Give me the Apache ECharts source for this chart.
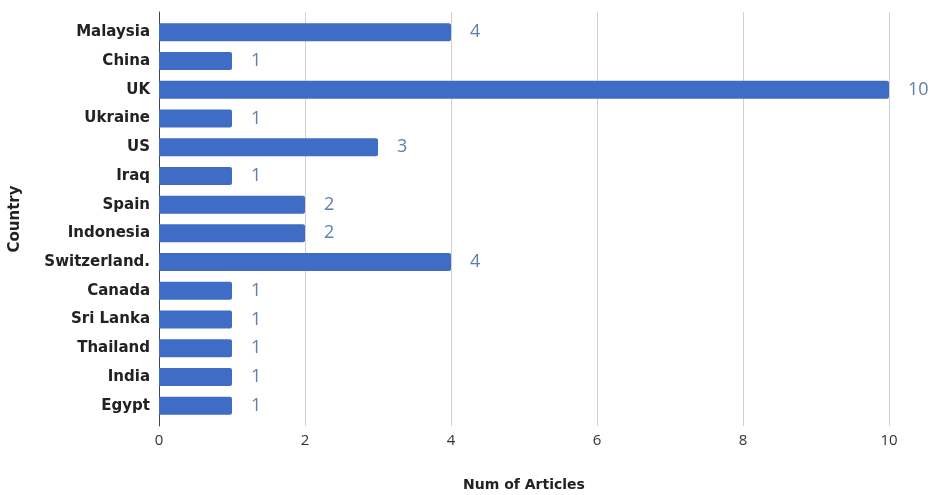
<!DOCTYPE html>
<html><head><meta charset="utf-8">
<script src="https://cdn.jsdelivr.net/npm/echarts@6/dist/echarts.min.js"></script>
<style>html,body{margin:0;padding:0;background:#fff}#c{width:934px;height:495px}</style>
</head><body><div id="c"></div>
<script>
const countries = ["Malaysia","China","UK","Ukraine","US","Iraq","Spain","Indonesia","Switzerland.","Canada","Sri Lanka","Thailand","India","Egypt"];
const articles = [4,1,10,1,3,1,2,2,4,1,1,1,1,1];
const xTicks = [0,2,4,6,8,10];
const chart = echarts.init(document.getElementById('c'));
const labelFont = {fontFamily:'DejaVu Sans',fontWeight:'bold',fontSize:15,color:'#222'};
chart.setOption({
  animation:false,
  grid:[
    {left:159,top:18,width:730,height:402,containLabel:false,outerBoundsMode:'none'},
    {left:159,top:12,width:730,height:414,containLabel:false,outerBoundsMode:'none'}
  ],
  xAxis:[
    {gridIndex:0,type:'value',min:xTicks[0],max:xTicks[xTicks.length-1],interval:2,
    name:'Num of Articles',nameLocation:'middle',nameGap:58,
    nameTextStyle:{fontFamily:'DejaVu Sans',fontWeight:'bold',fontSize:14,color:'#222'},
    axisLine:{show:false},axisTick:{show:false},
    axisLabel:{fontFamily:'Open Sans',fontSize:15,color:'#333',margin:13},
    splitLine:{show:false}},
    {gridIndex:1,type:'value',min:xTicks[0],max:xTicks[xTicks.length-1],interval:2,
    axisLine:{show:false},axisTick:{show:false},axisLabel:{show:false},
    splitLine:{lineStyle:{color:'#d0d0d0',width:1}}}
  ],
  yAxis:[
    {gridIndex:0,type:'category',data:countries,inverse:true,
    name:'Country',nameLocation:'middle',nameGap:136,
    nameTextStyle:{fontFamily:'DejaVu Sans',fontWeight:'bold',fontSize:15,color:'#222'},
    axisLine:{show:false},axisTick:{show:false},
    axisLabel:Object.assign({margin:9},labelFont)},
    {gridIndex:1,type:'value',min:0,max:1,
    axisLine:{show:true,lineStyle:{color:'#444',width:1}},axisTick:{show:false},
    axisLabel:{show:false},splitLine:{show:false}}
  ],
  series:[{type:'bar',xAxisIndex:0,yAxisIndex:0,data:articles,barWidth:18,z:3,
    itemStyle:{color:'#3f6cc4',borderRadius:[0,2,2,0]},
    label:{show:true,position:'right',distance:19,fontFamily:'Open Sans',fontSize:18,color:'#5f7eae'}}]
});
</script></body></html>
